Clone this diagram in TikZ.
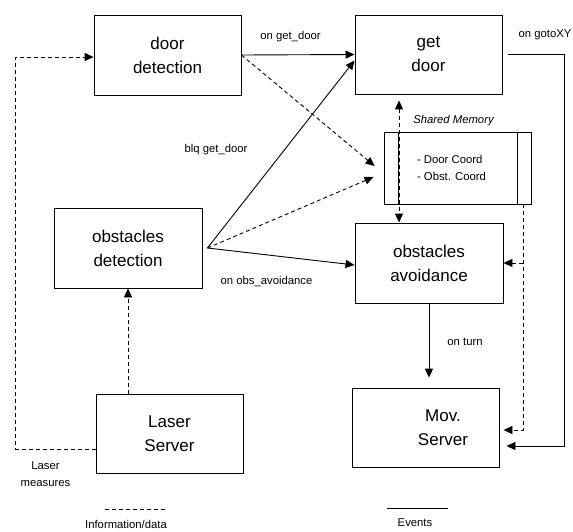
\documentclass[tikz,border=0pt]{standalone}
\usepackage{fontspec}
\setmainfont{Liberation Sans}
\usetikzlibrary{arrows.meta,calc}

\begin{document}
\begin{tikzpicture}[x=1pt,y=-1pt,
    module/.style={draw,line width=0.9pt,minimum width=147pt,minimum height=80pt,
      align=center,inner sep=0pt,font=\fontsize{17}{24}\selectfont},
    small/.style={inner sep=0pt,align=center,font=\fontsize{11.3}{17}\selectfont},
    ev/.style={line width=0.9pt,black,-{Triangle[length=9pt,width=8pt]}},
    info/.style={ev,dash pattern=on 4pt off 3pt}]
    \useasboundingbox (0,0) rectangle (573,531);

    \coordinate (doordet) at (167.5,55);
    \coordinate (getdoor) at (428.5,54.5);
    \coordinate (obsdet) at (128,248);
    \coordinate (obsavoid) at (429,263);
    \coordinate (laser) at (169.5,433.5);
    \coordinate (movsrv) at (425.5,427.5);
    \coordinate (shmem) at (457.5,168);

    % modules
    \node[module] (dd) at (doordet) {door\\detection};
    \node[module,minimum height=79pt] (gd) at (getdoor) {get\\door};
    \node[module,minimum width=148pt] (od) at (obsdet) {obstacles\\detection};
    \node[module,minimum width=148pt] (oa) at (obsavoid) {obstacles\\avoidance};
    \node[module,minimum height=79pt] (ls) at (laser) {Laser\\Server};
    \node[module,minimum height=79pt] (ms) at (movsrv) {};
    \node[module,draw=none,minimum width=0pt,minimum height=0pt] (mstxt) at ([xshift=17.5pt]ms.center) {Mov.\\Server};

    % shared memory
    \node[draw,line width=0.9pt,minimum width=147pt,minimum height=72pt] (shm) at (shmem) {};
    \draw[line width=0.9pt] ([xshift=15pt]shm.north west) -- ([xshift=15pt]shm.south west);
    \draw[line width=0.9pt] ([xshift=-14pt]shm.north east) -- ([xshift=-14pt]shm.south east);
    \node[small,align=left] (shmtxt) at ([xshift=-6pt]shm.center) {- Door Coord\\- Obst. Coord};
    \node[small,font=\fontsize{11.3}{17}\selectfont\itshape,anchor=south] (shmlbl) at ([xshift=-4pt,yshift=6pt]shm.north) {Shared Memory};

    % events
    \draw[ev] (dd.east) -- (gd.west);
    \coordinate (odout) at ([xshift=5pt]od.east);
    \draw[ev] (odout) -- ([yshift=-6pt]gd.west);
    \draw[ev] (odout) -- ([yshift=-2pt]oa.west);
    \draw[ev] (oa.south) -- ([yshift=10pt]oa.south |- ms.north);
    \draw[ev] ([xshift=6pt]gd.east) -- ++(56,0) |- ([xshift=7pt,yshift=-18.5pt]ms.east);

    % information
    \draw[info] (dd.east) -- ([xshift=-9pt,yshift=2pt]shm.west);
    \draw[info] (odout) -- ([xshift=-10pt,yshift=-9pt]shm.west);
    \draw[info,{Triangle[length=9pt,width=8pt]}-{Triangle[length=9pt,width=8pt]}]
      ([xshift=-29.5pt,yshift=-6pt]gd.south) -- ([xshift=-30pt]oa.north);
    \coordinate (shmout) at ([xshift=-8pt]shm.south east);
    \draw[info] (shmout) |- ([xshift=4pt,yshift=-2.5pt]ms.east);
    \draw[info] (shmout |- oa.east) -- (oa.east);
    \draw[info] (od.south |- ls.north) -- (od.south);
    \draw[info] ([yshift=-15.5pt]ls.west) -- ++(-80,0) |- ([yshift=-2pt]dd.west);

    % labels
    \node[small] (lgetdoor) at (290.5,37) {on get\_door};
    \node[small] (lblq) at (216,150) {blq get\_door};
    \node[small] (lobsav) at (266.5,282) {on obs\_avoidance};
    \node[small] (lturn) at (465,342) {on turn};
    \node[small] (lgoto) at (545,35) {on gotoXY};
    \node[small] (lmeas) at (45.5,474.5) {Laser\\measures};

    % legend
    \coordinate (infoa) at (105,509);
    \coordinate (infob) at (167,509);
    \coordinate (eva) at (387,508);
    \coordinate (evb) at (448,508);
    \draw[line width=0.9pt,dash pattern=on 4pt off 3pt] (infoa) -- (infob);
    \draw[line width=0.9pt] (eva) -- (evb);
    \node[small] (linfo) at (126,524) {Information/data};
    \node[small] (lev) at (415,522.5) {Events};
\end{tikzpicture}
\end{document}
